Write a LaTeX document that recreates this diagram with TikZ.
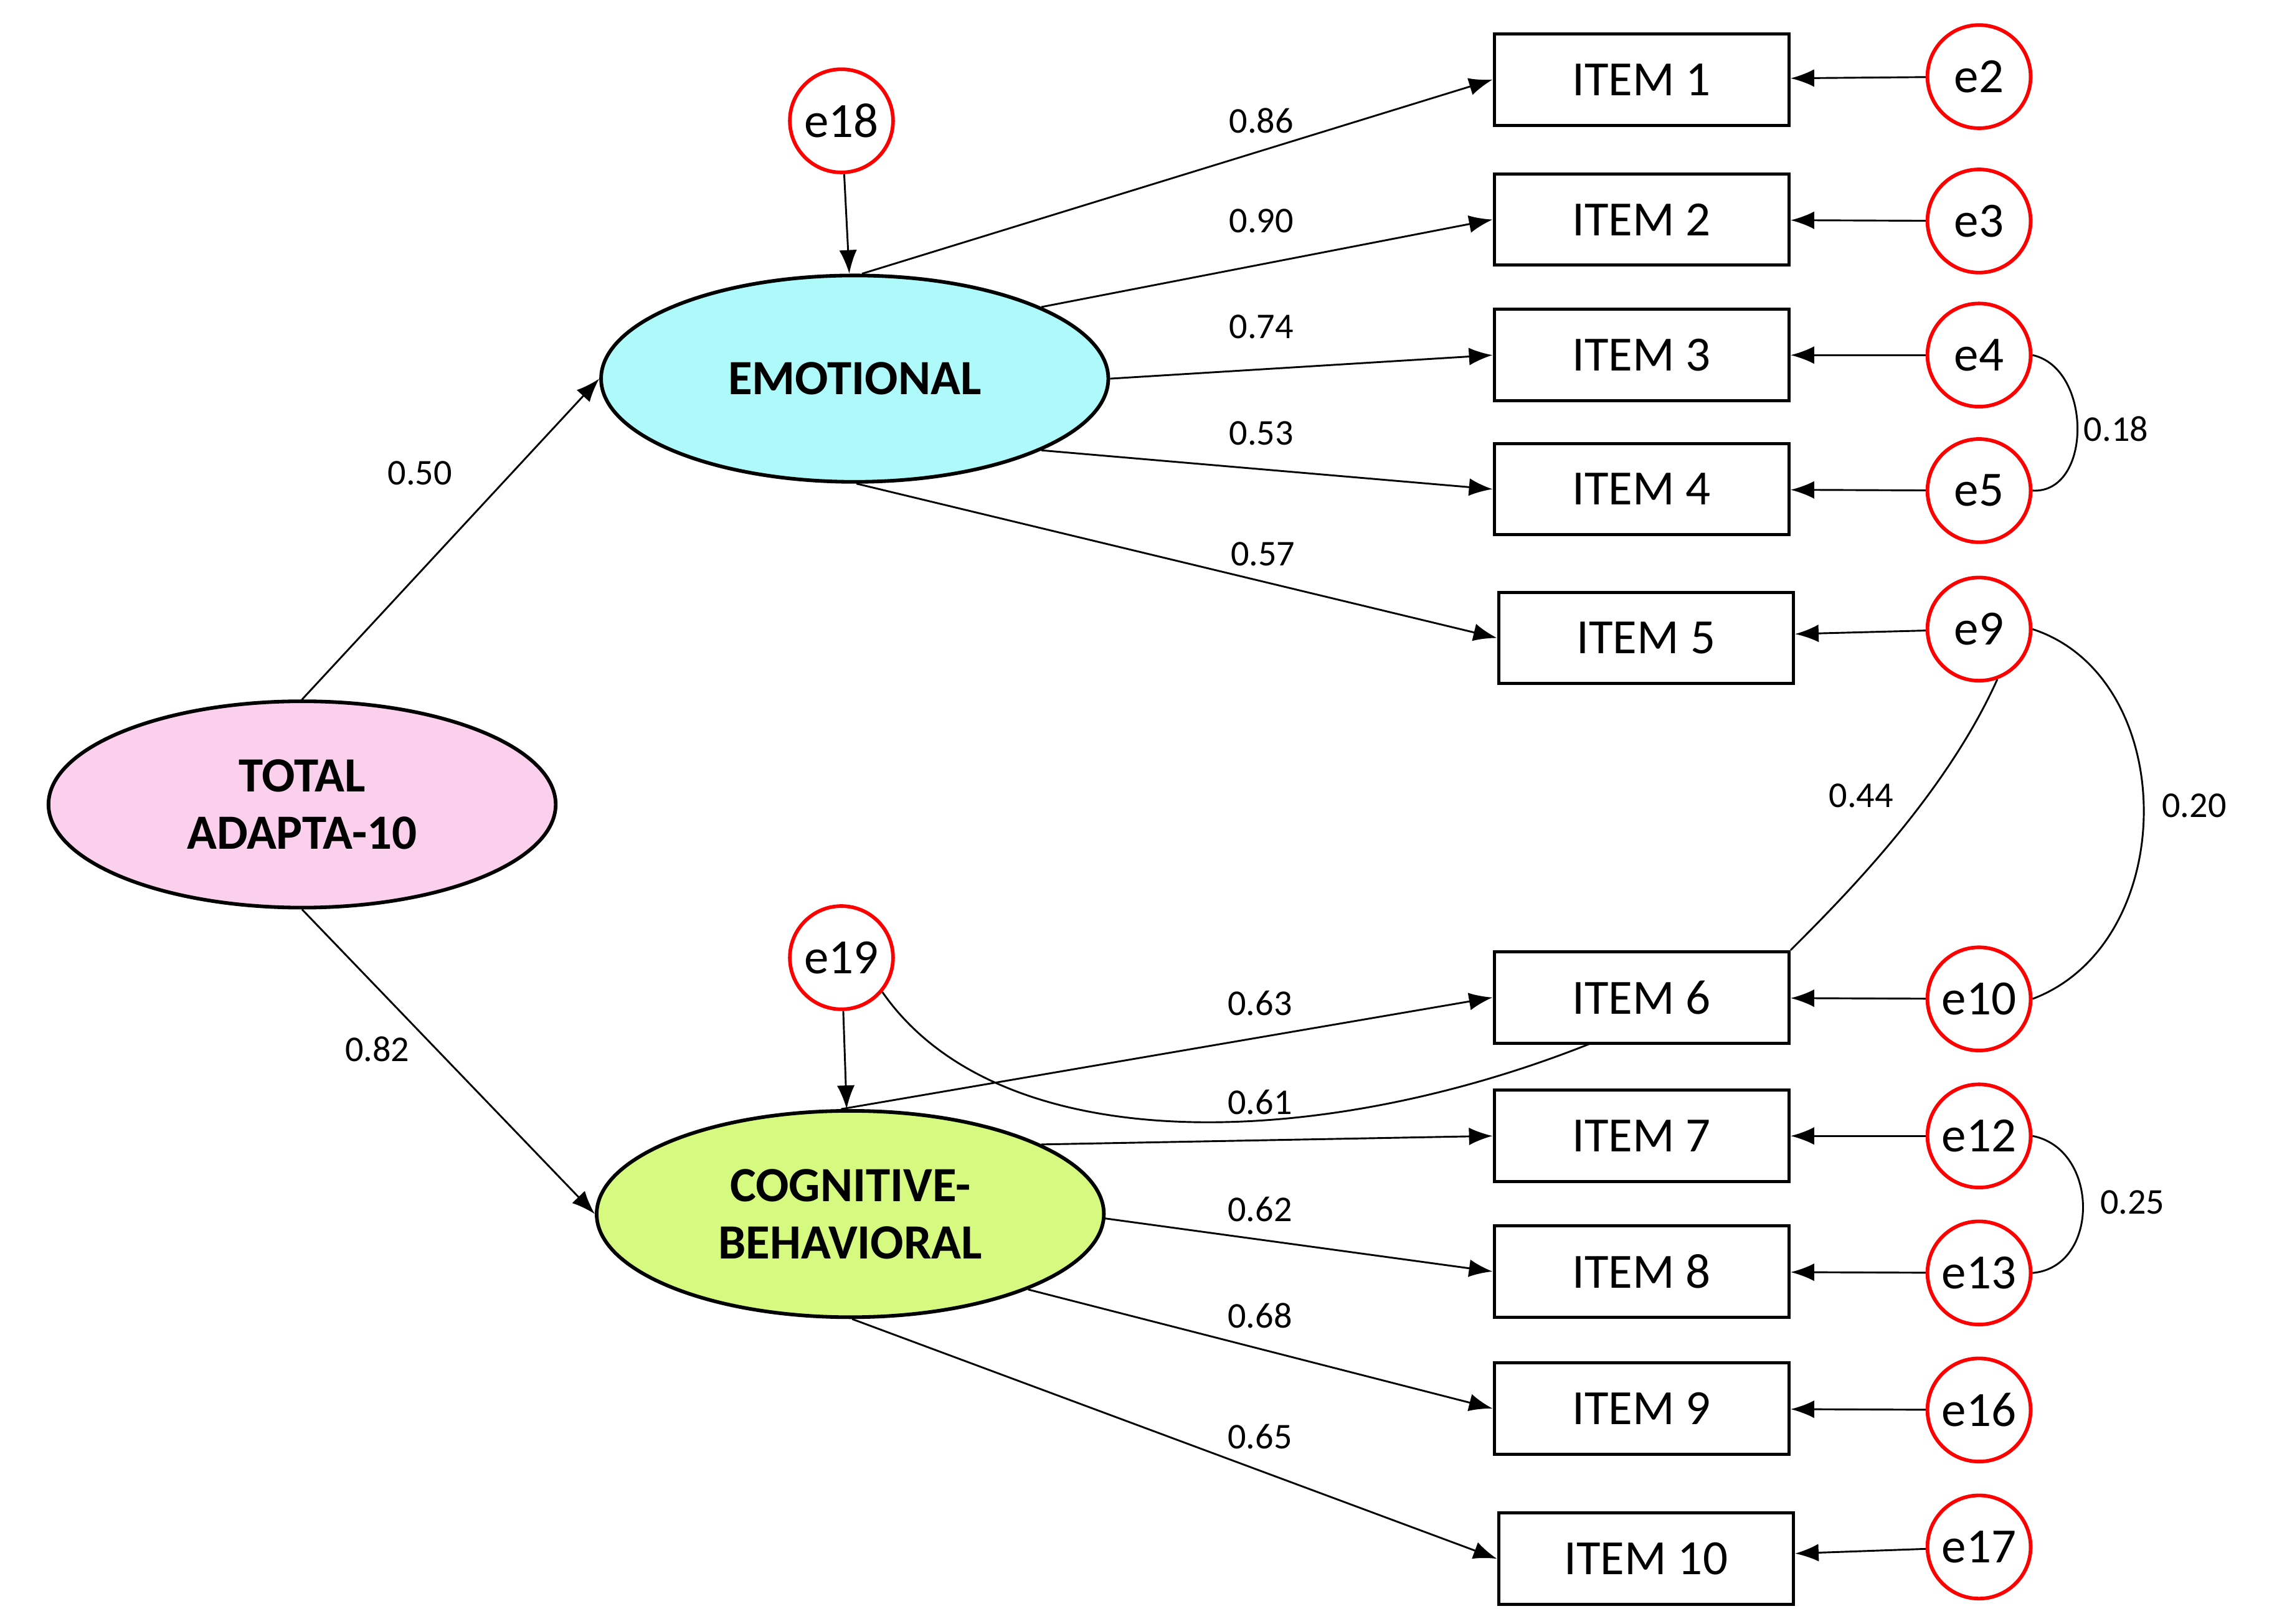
\documentclass[tikz,border=0pt]{standalone}
\usepackage{fontspec}
\setmainfont{Carlito}
\usetikzlibrary{arrows.meta,shapes.geometric}
\begin{document}
\begin{tikzpicture}[x=0.01cm,y=-0.01cm,
  lat/.style={ellipse,draw,line width=0.7pt,minimum width=3.44cm,minimum height=1.4cm,align=center,font=\fontsize{9.5}{11}\selectfont\bfseries,inner sep=0pt},
  item/.style={rectangle,draw,line width=0.6pt,minimum width=2cm,minimum height=0.62cm,font=\fontsize{9.5}{11}\selectfont,inner sep=0pt},
  err/.style={circle,draw=red,line width=0.7pt,minimum size=0.7cm,inner sep=0pt,font=\fontsize{9.5}{11}\selectfont},
  arr/.style={-{Latex[length=1.6mm,width=1.2mm]},line width=0.35pt},
  cov/.style={line width=0.35pt},
  lab/.style={font=\fontsize{7}{8}\selectfont,inner sep=1pt}]
\useasboundingbox (0,0) rectangle (1552,1102);
\node[lat,fill={rgb,255:red,250;green,208;blue,236}] (tot) at (205,546) {TOTAL\\ADAPTA-10};
\node[lat,fill={rgb,255:red,174;green,250;blue,250}] (emo) at (580,257) {EMOTIONAL};
\node[lat,fill={rgb,255:red,214;green,250;blue,128}] (cog) at (577,824) {COGNITIVE-\\BEHAVIORAL};
\foreach \n/\x/\y in {1/1114/54,2/1114/149,3/1114/241,4/1114/332,5/1117/433,6/1114/677,7/1114/771,8/1114/863,9/1114/956,10/1117/1058}
  \node[item] (i\n) at (\x,\y) {ITEM \n};
\foreach \n/\y in {2/52,3/150,4/241,5/333,9/427,10/678,12/771,13/864,16/957,17/1050}
  \node[err] (e\n) at (1343,\y) {e\n};
\node[err] (e18) at (571,82) {e18};
\node[err] (e19) at (571,650) {e19};
\foreach \e/\i in {2/1,3/2,4/3,5/4,9/5,10/6,12/7,13/8,16/9,17/10}
  \draw[arr] (e\e) -- (i\i);
\draw[arr] (e18) -- (emo);
\draw[arr] (e19) -- (cog);
\draw[arr] (tot.north) -- (emo.west);
\draw[arr] (tot.south) -- (cog.west);
\draw[arr] (emo.86) -- (i1.west);
\draw[arr] (emo.21) -- (i2.west);
\draw[arr] (emo.0) -- (i3.west);
\draw[arr] (emo.-21) -- (i4.west);
\draw[arr] (emo.-89) -- (i5.west);
\draw[arr] (cog.95) -- (i6.west);
\draw[arr] (cog.20) -- (i7.west);
\draw[arr] (cog.-1) -- (i8.west);
\draw[arr] (cog.-23) -- (i9.west);
\draw[arr] (cog.-89) -- (i10.west);
\draw[cov] (e4.east) .. controls (1420,250) and (1420,335) .. (e5.east);
\draw[cov] (e12.east) .. controls (1425,780) and (1425,860) .. (e13.east);
\draw[cov] (e9.east) .. controls (1480,460) and (1480,640) .. (e10.east);
\draw[cov] (e9.-70) .. controls (1320,540) and (1250,610) .. (i6.north east);
\coordinate (i6b) at (1080,708);
\draw[cov] (e19.-40) .. controls (680,790) and (900,780) .. (i6b);
\node[lab] at (856,82) {0.86};
\node[lab] at (856,150) {0.90};
\node[lab] at (856,222) {0.74};
\node[lab] at (856,294) {0.53};
\node[lab] at (857,376) {0.57};
\node[lab] at (285,321) {0.50};
\node[lab] at (256,712) {0.82};
\node[lab] at (855,681) {0.63};
\node[lab] at (855,748) {0.61};
\node[lab] at (855,821) {0.62};
\node[lab] at (855,893) {0.68};
\node[lab] at (855,975) {0.65};
\node[lab] at (1436,291) {0.18};
\node[lab] at (1489,547) {0.20};
\node[lab] at (1263,540) {0.44};
\node[lab] at (1447,816) {0.25};
\end{tikzpicture}
\end{document}
